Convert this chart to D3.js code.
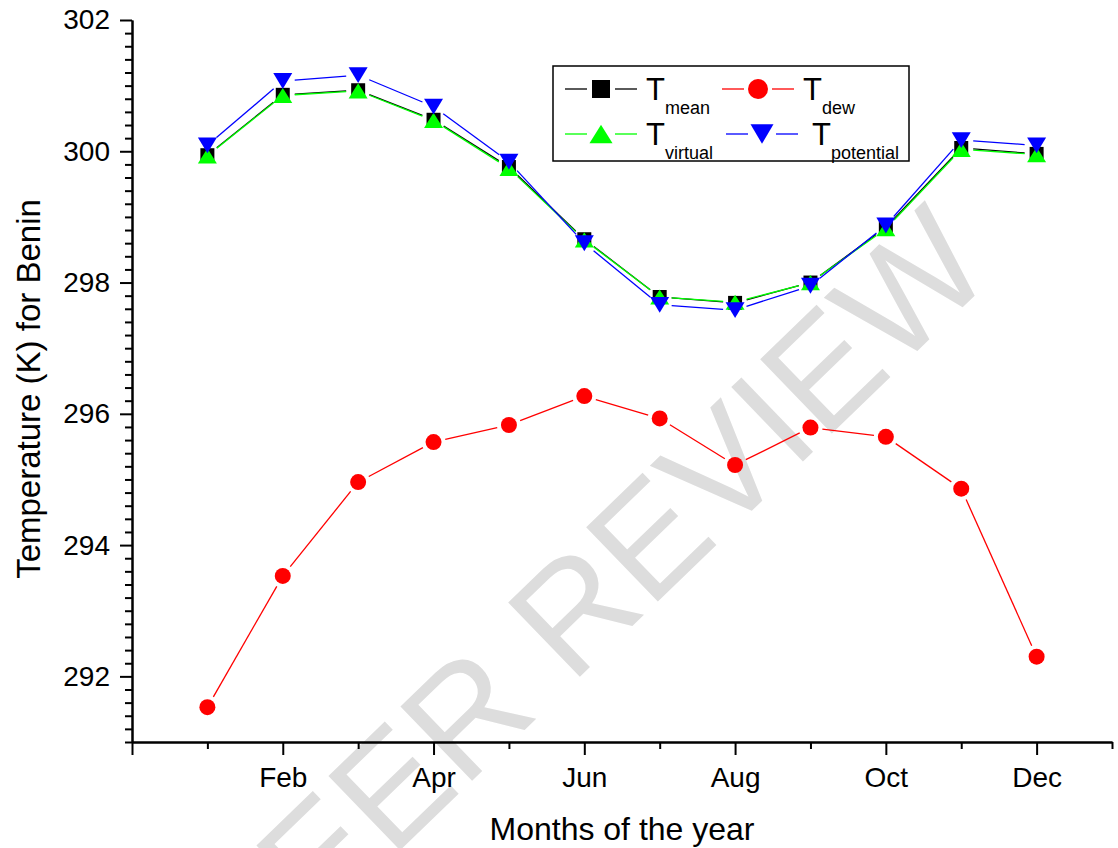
<!DOCTYPE html>
<html>
<head>
<meta charset="utf-8">
<script src="https://cdn.jsdelivr.net/npm/d3@7"></script>
<style>
  body { margin: 0; background: #fff; }
  svg { display: block; font-family: "Liberation Sans", Arial, sans-serif; }
  .axis path, .axis line { stroke: #000; stroke-width: 2; }
  .axis text { font-size: 28px; fill: #000; font-family: "Liberation Sans", Arial, sans-serif; }
</style>
</head>
<body>
<div id="chart"></div>
<script>
const months = [1, 2, 3, 4, 5, 6, 7, 8, 9, 10, 11, 12];
const monthLabels = {2: "Feb", 4: "Apr", 6: "Jun", 8: "Aug", 10: "Oct", 12: "Dec"};
const tMean      = [299.94, 300.86, 300.93, 300.48, 299.76, 298.66, 297.78, 297.69, 298.00, 298.84, 300.05, 299.96];
const tVirtual   = [299.93, 300.85, 300.92, 300.47, 299.74, 298.65, 297.78, 297.70, 298.00, 298.82, 300.03, 299.95];
const tPotential = [300.09, 301.07, 301.16, 300.68, 299.84, 298.60, 297.66, 297.58, 297.95, 298.87, 300.17, 300.09];
const tDew       = [291.53, 293.53, 294.96, 295.57, 295.83, 296.27, 295.93, 295.22, 295.79, 295.65, 294.86, 292.30];
const yMajor = [292, 294, 296, 298, 300, 302];

const width = 1118, height = 848,
    margin = ({ top: 20, right: 6, bottom: 106, left: 132 });

const svg = d3.select("#chart").append("svg")
    .attr("width", width)
    .attr("height", height);

// watermark
svg.append("text")
    .attr("transform", "translate(622,636) rotate(-44)")
    .attr("text-anchor", "middle")
    .style("font-size", "150px")
    .style("fill", "#dddddd")
    .text("PEER REVIEW");

const x = d3.scaleLinear([0, 13], [margin.left, width - margin.right]);
const y = d3.scaleLinear([291, 302], [height - margin.bottom, margin.top]);

// axes: minor ticks first, then major with labels
const xMinor = d3.range(1, 14, 2);
const xMajor = d3.range(0, 13, 2);
const yMinor = d3.range(291, 302.01, 0.2).filter(v => Math.abs(v - Math.round(v / 2) * 2) > 0.05 || Math.round(v) % 2 === 1);

svg.append("g")
    .attr("class", "axis")
    .attr("transform", `translate(0,${y(291)})`)
    .call(d3.axisBottom(x).tickValues(xMinor).tickSize(7).tickSizeOuter(0).tickFormat(""));
svg.append("g")
    .attr("class", "axis")
    .attr("transform", `translate(0,${y(291)})`)
    .call(d3.axisBottom(x).tickValues(xMajor).tickSize(13).tickSizeOuter(0).tickPadding(12)
        .tickFormat(d => monthLabels[d] || ""));

svg.append("g")
    .attr("class", "axis")
    .attr("transform", `translate(${x(0)},0)`)
    .call(d3.axisLeft(y).tickValues(yMinor).tickSize(7).tickSizeOuter(0).tickFormat(""));
svg.append("g")
    .attr("class", "axis")
    .attr("transform", `translate(${x(0)},0)`)
    .call(d3.axisLeft(y).tickValues(yMajor).tickSize(12).tickSizeOuter(0).tickPadding(10)
        .tickFormat(d3.format("d")));

svg.append("text")
    .attr("x", (x(0) + x(13)) / 2)
    .attr("y", 840)
    .attr("text-anchor", "middle")
    .style("font-size", "32px")
    .text("Months of the year");

svg.append("text")
    .attr("transform", `translate(40,${(y(291) + y(302)) / 2 + 8}) rotate(-90)`)
    .attr("text-anchor", "middle")
    .style("font-size", "33px")
    .text("Temperature (K) for Benin");

// marker shapes
const shapes = {
    square: s => `M${-s / 2},${-s / 2}h${s}v${s}h${-s}Z`,
    circle: s => `M${s / 2},0A${s / 2},${s / 2} 0 1,1 ${-s / 2},0A${s / 2},${s / 2} 0 1,1 ${s / 2},0Z`,
    up: s => `M0,${-s * 0.4}L${s / 2},${s * 0.4}L${-s / 2},${s * 0.4}Z`,
    down: s => `M0,${s * 0.42}L${s / 2},${-s * 0.42}L${-s / 2},${-s * 0.42}Z`
};

const series = [
    { name: "mean", values: tMean, color: "#000000", shape: "square", size: 14 },
    { name: "dew", values: tDew, color: "#ff0000", shape: "circle", size: 16 },
    { name: "virtual", values: tVirtual, color: "#00ff00", shape: "up", size: 19 },
    { name: "potential", values: tPotential, color: "#0000ff", shape: "down", size: 19 }
];

const gap = 12;
function segments(pts) {
    const out = [];
    for (let i = 0; i < pts.length - 1; i++) {
        const [x1, y1] = pts[i], [x2, y2] = pts[i + 1];
        const len = Math.hypot(x2 - x1, y2 - y1);
        const ux = (x2 - x1) / len, uy = (y2 - y1) / len;
        out.push([x1 + ux * gap, y1 + uy * gap, x2 - ux * gap, y2 - uy * gap]);
    }
    return out;
}

for (const s of series) {
    const pts = months.map((m, i) => [x(m), y(s.values[i])]);
    const g = svg.append("g");
    g.selectAll("line")
        .data(segments(pts))
        .join("line")
        .attr("x1", d => d[0]).attr("y1", d => d[1])
        .attr("x2", d => d[2]).attr("y2", d => d[3])
        .attr("stroke", s.color)
        .attr("stroke-width", 1.3);
    g.selectAll("path")
        .data(pts)
        .join("path")
        .attr("transform", d => `translate(${d[0]},${d[1]})`)
        .attr("d", shapes[s.shape](s.size))
        .attr("fill", s.color);
}

// legend
const legend = svg.append("g");
legend.append("rect")
    .attr("x", 553).attr("y", 66)
    .attr("width", 356).attr("height", 95)
    .attr("fill", "none")
    .attr("stroke", "#000")
    .attr("stroke-width", 1.5);

const legendItems = [
    { s: series[0], lx: 565, ly: 89, tx: 646, legSize: 18 },
    { s: series[1], lx: 722, ly: 89, tx: 803, legSize: 20 },
    { s: series[2], lx: 565, ly: 134, tx: 646, legSize: 23 },
    { s: series[3], lx: 726, ly: 134, tx: 812, legSize: 23 }
];

for (const it of legendItems) {
    const cx = it.lx + 36;
    legend.append("line")
        .attr("x1", it.lx).attr("x2", cx - 14)
        .attr("y1", it.ly).attr("y2", it.ly)
        .attr("stroke", it.s.color).attr("stroke-width", 1.3);
    legend.append("line")
        .attr("x1", cx + 14).attr("x2", it.lx + 72)
        .attr("y1", it.ly).attr("y2", it.ly)
        .attr("stroke", it.s.color).attr("stroke-width", 1.3);
    legend.append("path")
        .attr("transform", `translate(${cx},${it.ly})`)
        .attr("d", shapes[it.s.shape](it.legSize))
        .attr("fill", it.s.color);
    const t = legend.append("text")
        .attr("x", it.tx)
        .attr("y", it.ly + 11)
        .style("font-size", "31px")
        .text("T");
    t.append("tspan")
        .attr("dy", 14)
        .style("font-size", "18px")
        .text(it.s.name);
}
</script>
</body>
</html>
